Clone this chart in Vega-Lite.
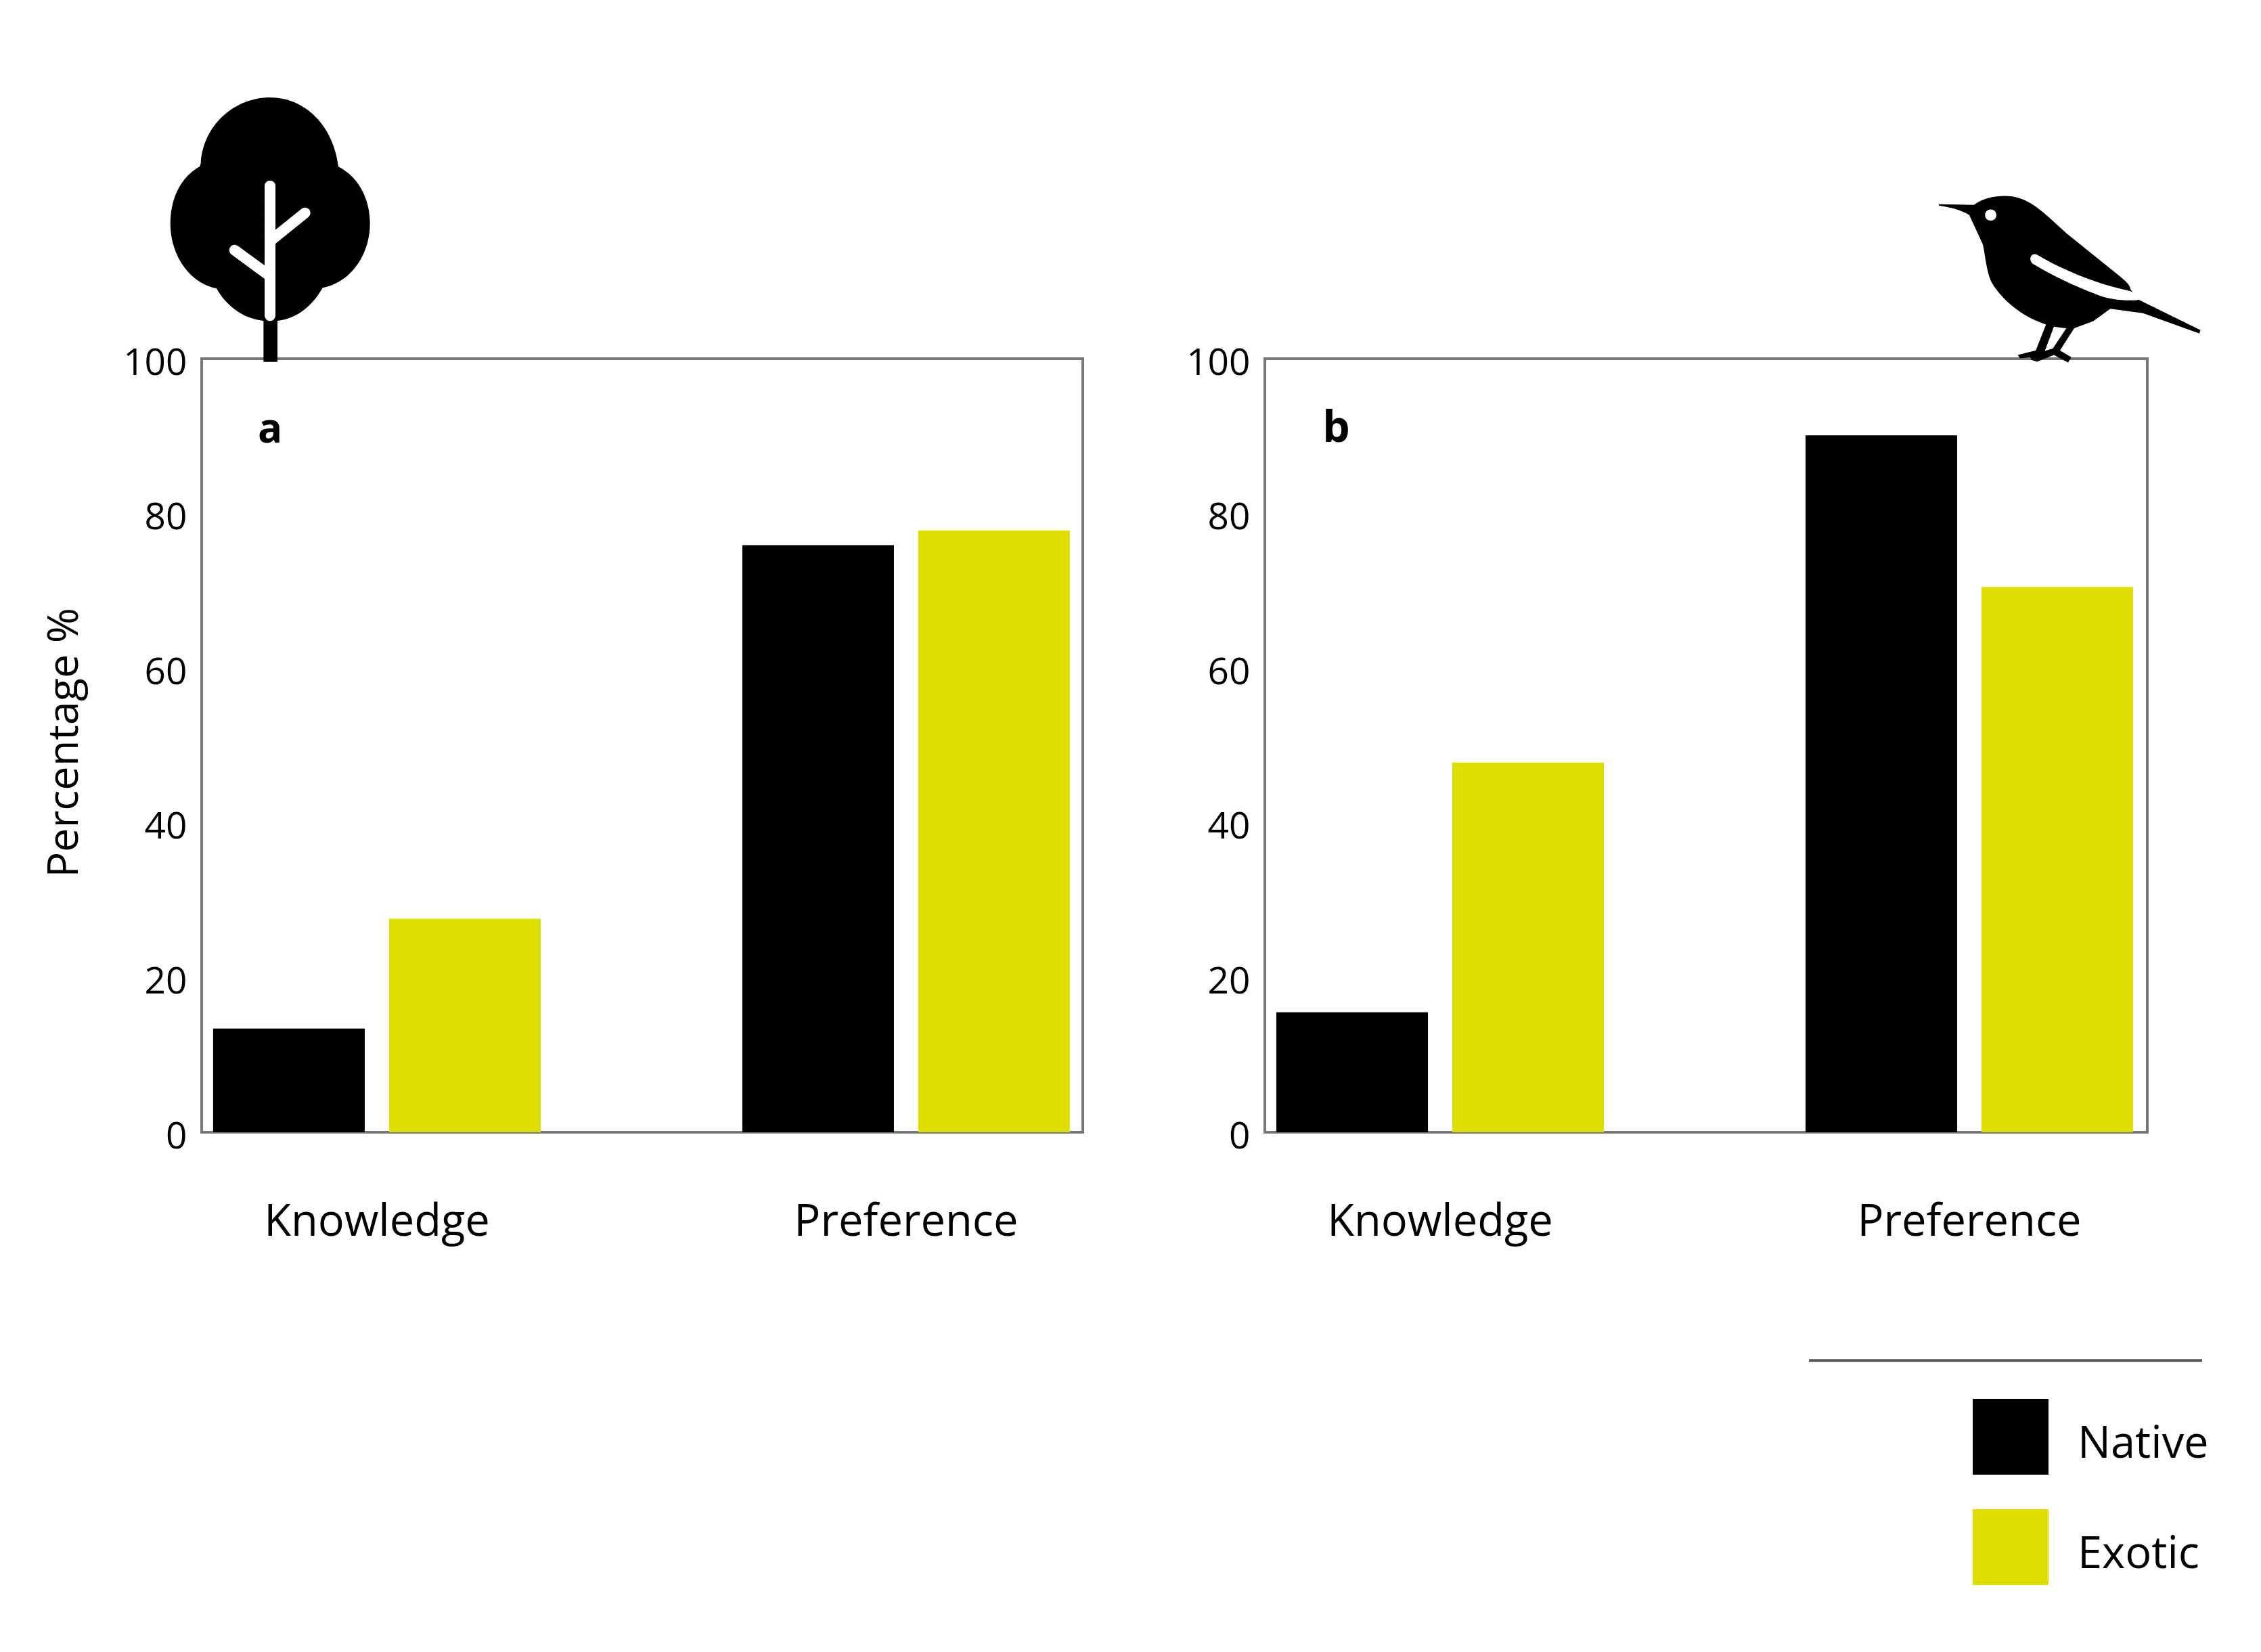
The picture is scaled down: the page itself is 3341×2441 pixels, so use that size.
{
  "$schema": "https://vega.github.io/schema/vega-lite/v6.json",
  "padding": {"left": 62, "top": 141, "right": 0, "bottom": 0},
  "background": "white",
  "bounds": "flush",
  "spacing": 269,
  "config": {
    "font": "Open Sans",
    "view": {"stroke": "#777777", "strokeWidth": 4},
    "axis": {"grid": false, "ticks": false, "domain": false, "labelColor": "#000000", "titleColor": "#000000", "labelLimit": 0}
  },
  "datasets": {
    "barsA": [
      {"topic": "Knowledge", "origin": "Native", "percent": 13.4},
      {"topic": "Knowledge", "origin": "Exotic", "percent": 27.6},
      {"topic": "Preference", "origin": "Native", "percent": 75.9},
      {"topic": "Preference", "origin": "Exotic", "percent": 77.8}
    ],
    "barsB": [
      {"topic": "Knowledge", "origin": "Native", "percent": 15.5},
      {"topic": "Knowledge", "origin": "Exotic", "percent": 47.8},
      {"topic": "Preference", "origin": "Native", "percent": 90.1},
      {"topic": "Preference", "origin": "Exotic", "percent": 70.5}
    ],
    "tree": [{"px": 0.0776, "py": 116.8}],
    "bird": [{"px": 0.9082, "py": 110.4}],
    "labelA": [{"px": 0.0776, "py": 90.7, "tag": "a"}],
    "labelB": [{"px": 0.081, "py": 90.9, "tag": "b"}],
    "divider": [{"px": 0.6166, "px2": 1.0621, "py": -29.5}]
  },
  "hconcat": [
    {
      "width": 1302,
      "height": 1143,
      "resolve": {"scale": {"x": "independent"}},
      "layer": [
        {
          "data": {"name": "barsA"},
          "mark": {"type": "bar", "clip": false},
          "encoding": {
            "x": {
              "field": "topic", "type": "nominal", "title": null,
              "scale": {"paddingInner": 0.381, "paddingOuter": 0.023, "align": 0.47},
              "axis": {"labelAngle": 0, "labelFontSize": 65, "labelPadding": 101}
            },
            "xOffset": {"field": "origin", "type": "nominal", "sort": ["Native", "Exotic"], "scale": {"paddingInner": 0.138, "paddingOuter": 0}},
            "y": {
              "field": "percent", "type": "quantitative",
              "scale": {"domain": [0, 100], "nice": false},
              "axis": {"values": [0, 20, 40, 60, 80, 100], "labelFontSize": 55, "labelPadding": 22, "labelOffset": 6, "title": "Percentage %", "titleFontSize": 63, "titleFontWeight": "normal", "titlePadding": 54, "titleY": 567}
            },
            "color": {
              "field": "origin", "type": "nominal",
              "scale": {"domain": ["Native", "Exotic"], "range": ["#000000", "#dedf00"]},
              "legend": {"title": null, "orient": "none", "legendX": 2617, "legendY": 1537, "padding": 0, "symbolType": "square", "symbolSize": 12544, "symbolStrokeWidth": 0, "labelFontSize": 65, "labelOffset": 43, "labelLimit": 0, "rowPadding": 51, "labelColor": "#000000", "encoding": {"labels": {"dy": {"value": 11}}}}
            }
          }
        },
        {
          "data": {"name": "tree"},
          "mark": {"type": "point", "filled": true, "opacity": 1, "color": "#000000", "size": 0.4444, "shape": "M-307,-290C-297,-460 -157,-582 0,-582C160,-582 283,-450 303,-275C393,-230 443,-130 443,-25C443,120 353,240 233,262C183,350 113,400 33,408L33,590L-29,590L-29,408C-110,400 -190,350 -237,265C-357,240 -442,120 -442,-25C-442,-130 -397,-230 -312,-275Z"},
          "encoding": {
            "x": {"field": "px", "type": "quantitative", "scale": {"domain": [0, 1], "nice": false, "zero": false}, "axis": null},
            "y": {"field": "py", "type": "quantitative"}
          }
        },
        {
          "data": {"name": "tree"},
          "mark": {"type": "point", "filled": false, "opacity": 1, "color": "#ffffff", "strokeWidth": 16, "strokeCap": "round", "size": 0.4444, "shape": "M0,-190L0,385M0,55L155,-70M0,210L-157,95"},
          "encoding": {
            "x": {"field": "px", "type": "quantitative", "scale": {"domain": [0, 1], "nice": false, "zero": false}, "axis": null},
            "y": {"field": "py", "type": "quantitative"}
          }
        },
        {
          "data": {"name": "labelA"},
          "mark": {"type": "text", "fontSize": 60, "fontWeight": "bold", "color": "#000000", "align": "center", "baseline": "middle"},
          "encoding": {
            "x": {"field": "px", "type": "quantitative", "scale": {"domain": [0, 1], "nice": false, "zero": false}, "axis": null},
            "y": {"field": "py", "type": "quantitative"},
            "text": {"field": "tag"}
          }
        }
      ]
    },
    {
      "width": 1304,
      "height": 1143,
      "resolve": {"scale": {"x": "independent"}},
      "layer": [
        {
          "data": {"name": "barsB"},
          "mark": {"type": "bar", "clip": false},
          "encoding": {
            "x": {
              "field": "topic", "type": "nominal", "title": null,
              "scale": {"paddingInner": 0.381, "paddingOuter": 0.0243, "align": 0.447},
              "axis": {"labelAngle": 0, "labelFontSize": 65, "labelPadding": 101}
            },
            "xOffset": {"field": "origin", "type": "nominal", "sort": ["Native", "Exotic"], "scale": {"paddingInner": 0.138, "paddingOuter": 0}},
            "y": {
              "field": "percent", "type": "quantitative",
              "scale": {"domain": [0, 100], "nice": false},
              "axis": {"values": [0, 20, 40, 60, 80, 100], "labelFontSize": 55, "labelPadding": 22, "labelOffset": 6, "title": null}
            },
            "color": {
              "field": "origin", "type": "nominal",
              "scale": {"domain": ["Native", "Exotic"], "range": ["#000000", "#dedf00"]}
            }
          }
        },
        {
          "data": {"name": "bird"},
          "mark": {"type": "point", "filled": true, "opacity": 1, "color": "#000000", "size": 0.4444, "shape": "M-565,-328L-410,-325C-370,-355 -320,-365 -270,-365C-200,-365 -140,-330 -60,-255L0,-200L230,-15C260,10 285,30 285,50L320,95L595,230L590,245L340,155L195,135L120,190L35,222L-28,320L22,350L8,374L-55,340L-130,370L-155,362L-160,350L-205,355L-215,340L-135,320L-90,205C-200,170 -290,90 -330,20C-355,-30 -360,-110 -370,-150L-430,-280C-470,-305 -520,-315 -565,-322Z"},
          "encoding": {
            "x": {"field": "px", "type": "quantitative", "scale": {"domain": [0, 1], "nice": false, "zero": false}, "axis": null},
            "y": {"field": "py", "type": "quantitative"}
          }
        },
        {
          "data": {"name": "bird"},
          "mark": {"type": "point", "filled": true, "opacity": 1, "color": "#ffffff", "size": 0.4444, "shape": "M-130,-105C-80,-75 80,15 285,57L340,85L315,97C250,100 190,95 130,70C60,45 -50,-5 -150,-65C-170,-85 -155,-115 -130,-105ZM-55,215L0,222L-60,312L-95,322ZM-360,-280C-360,-313 -310,-313 -310,-280C-310,-247 -360,-247 -360,-280Z"},
          "encoding": {
            "x": {"field": "px", "type": "quantitative", "scale": {"domain": [0, 1], "nice": false, "zero": false}, "axis": null},
            "y": {"field": "py", "type": "quantitative"}
          }
        },
        {
          "data": {"name": "labelB"},
          "mark": {"type": "text", "fontSize": 64, "fontWeight": "bold", "color": "#000000", "align": "center", "baseline": "middle"},
          "encoding": {
            "x": {"field": "px", "type": "quantitative", "scale": {"domain": [0, 1], "nice": false, "zero": false}, "axis": null},
            "y": {"field": "py", "type": "quantitative"},
            "text": {"field": "tag"}
          }
        },
        {
          "data": {"name": "divider"},
          "mark": {"type": "rule", "color": "#555555", "strokeWidth": 4},
          "encoding": {
            "x": {"field": "px", "type": "quantitative", "scale": {"domain": [0, 1], "nice": false, "zero": false}, "axis": null},
            "x2": {"field": "px2"},
            "y": {"field": "py", "type": "quantitative"}
          }
        }
      ]
    }
  ]
}
